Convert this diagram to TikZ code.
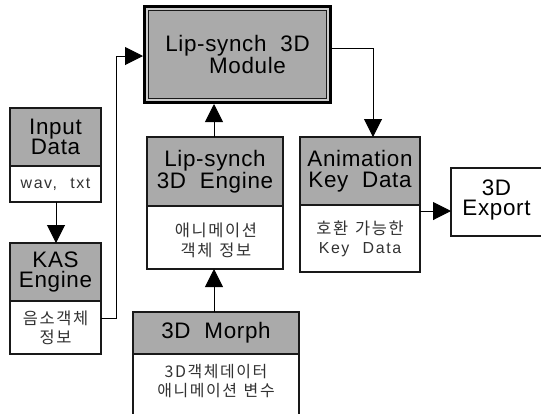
\documentclass[tikz,border=0pt]{standalone}
\usepackage{fontspec}
\setmainfont{Liberation Sans}[LetterSpace=3,WordSpace=2]
\newfontfamily\kr{Noto Sans CJK KR}[LetterSpace=10,WordSpace=1.3]
\newfontfamily\lat{Liberation Sans}[LetterSpace=10,WordSpace=2.2]
\usetikzlibrary{arrows.meta}
\definecolor{hdrgray}{RGB}{170,170,170}
\definecolor{gapgray}{RGB}{205,205,205}
\definecolor{linecol}{RGB}{25,25,25}
\definecolor{smalltext}{RGB}{50,50,50}
\tikzset{
  hdr/.style={draw=linecol,line width=1.1bp,fill=hdrgray,inner sep=0pt,outer sep=0pt,align=center,
    font=\fontsize{22.5}{20.5}\selectfont},
  bodybox/.style={draw=linecol,line width=1.1bp,fill=white,inner sep=0pt,outer sep=0pt,align=center,text=smalltext},
  smalltxt/.style={align=center,inner sep=0pt,text=smalltext},
  conn/.style={draw=black,line width=1bp,-{Triangle[length=18bp,width=18bp]}}
}
\begin{document}
\begin{tikzpicture}[x=1bp,y=-1bp]
\useasboundingbox (0,0) rectangle (541,413);
% Input Data
\node[hdr,minimum width=91bp,minimum height=58bp,anchor=north west] (inH) at (10,108) {Input\\Data};
\node[bodybox,minimum width=91bp,minimum height=36bp,anchor=north west,font=\lat\fontsize{16}{19}\selectfont] (inB) at (10,166) {wav, txt};
% KAS Engine
\node[hdr,minimum width=91bp,minimum height=58bp,anchor=north west] (kasH) at (10,243) {KAS\\Engine};
\node[bodybox,minimum width=91bp,minimum height=53bp,anchor=north west,font=\kr\fontsize{16.5}{19}\selectfont] (kasB) at (10,301) {음소객체\\정보};
% Module
\node[minimum width=189bp,minimum height=99bp,inner sep=0pt,outer sep=0pt] (mod) at (237.5,54.5) {};
\fill[gapgray] (mod.north west) rectangle (mod.south east);
\draw[black,line width=3bp] ([shift={(1.5,1.5)}]mod.north west) rectangle ([shift={(-1.5,-1.5)}]mod.south east);
\draw[linecol,line width=1bp,fill=hdrgray] ([shift={(5.5,5.5)}]mod.north west) rectangle ([shift={(-5.5,-5.5)}]mod.south east);
\node[align=center,inner sep=0pt,font=\fontsize{22.5}{20.5}\selectfont] (modtext) at (mod.center) {Lip-synch 3D\\\hspace*{20bp}Module};
% Lip-synch 3D Engine
\node[hdr,minimum width=136bp,minimum height=69bp,anchor=north west] (engH) at (147,137) {Lip-synch\\3D Engine};
\node[bodybox,minimum width=136bp,minimum height=63bp,anchor=north west] (engB) at (147,206) {};
\node[smalltxt,font=\kr\fontsize{16.5}{20}\selectfont] (engtext) at (216,240) {애니메이션\\객체 정보};
% 3D Morph
\node[hdr,minimum width=166bp,minimum height=42bp,anchor=north west] (morH) at (133,312) {3D Morph};
\node[bodybox,minimum width=166bp,minimum height=70bp,anchor=north west] (morB) at (133,354) {};
\node[smalltxt,font=\kr\fontsize{16}{19.5}\selectfont] (mortext) at (216,381) {3D객체데이터\\애니메이션 변수};
% Animation Key Data
\node[hdr,minimum width=120bp,minimum height=68bp,anchor=north west] (akdH) at (300,137) {Animation\\Key Data};
\node[bodybox,minimum width=120bp,minimum height=67bp,anchor=north west,font=\kr\fontsize{16.5}{19}\selectfont] (akdB) at (300,205) {호환 가능한\\{\lat\fontsize{16}{19}\selectfont Key Data}};
% 3D Export
\node[bodybox,minimum width=91bp,minimum height=68bp,anchor=north west] (expB) at (451,168) {};
\node[align=center,inner sep=0pt,font=\fontsize{22.5}{20.5}\selectfont] (exptext) at (496.5,200) {3D\\Export};
% connectors
\coordinate (k1) at (116,318);
\coordinate (k2) at (116,56);
\coordinate (m1) at (373,48);
\coordinate (e1) at (436,211);
\draw[conn] (inB.south -| 56,0) -- (kasH.north -| 56,0);
\draw[conn] (kasB.east |- k1) -- (k1) -- (k2) -- (mod.west |- k2);
\draw[conn] (mod.east |- m1) -- (m1) -- (akdH.north -| m1);
\draw[conn] (engH.north -| 214,0) -- (mod.south -| 214,0);
\draw[conn] (morH.north -| 214,0) -- (engB.south -| 214,0);
\draw[conn] (akdB.east |- e1) -- (expB.west |- e1);
\end{tikzpicture}
\end{document}
